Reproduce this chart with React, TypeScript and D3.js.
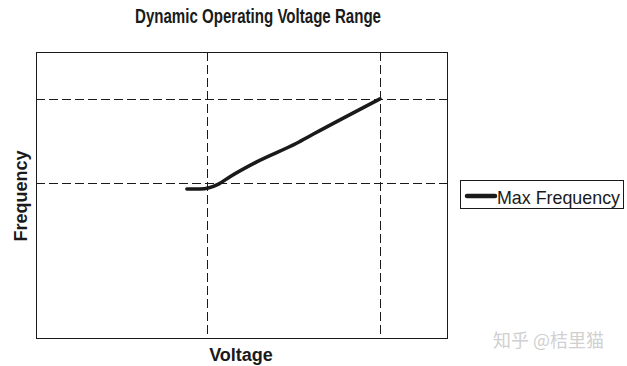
import React, { useEffect, useRef } from 'react';
import * as d3 from 'd3';

// Voltage / frequency in arbitrary units (0-100)
const voltage = [36.7, 39.9, 44.4, 47.2, 53.7, 63.4, 67.5, 83.7];
const frequency = [52.1, 52.1, 53.8, 56.4, 61.6, 68.1, 71.3, 83.6];
const voltageGrid = [41.6, 83.7];
const frequencyGrid = [54.2, 83.6];
const seriesName = 'Max Frequency';

const W = 627;
const H = 366;
const margin = { top: 52, right: 180, bottom: 28, left: 36 };

export default function App() {
  const svgRef = useRef<SVGSVGElement>(null);

  useEffect(() => {
    if (!svgRef.current) return;
    const svg = d3.select(svgRef.current);
    svg.selectAll('*').remove();

    const x = d3.scaleLinear().domain([0, 100]).range([margin.left, W - margin.right]);
    const y = d3.scaleLinear().domain([0, 100]).range([H - margin.bottom, margin.top]);
    const crisp = (v: number) => Math.round(v) + 0.5;
    const font = 'Liberation Sans, Arial, sans-serif';

    svg.append('rect').attr('width', W).attr('height', H).attr('fill', '#fff');

    // title (condensed in the original)
    svg.append('text')
      .attr('x', 135).attr('y', 22.5)
      .attr('font-family', font).attr('font-weight', 'bold').attr('font-size', 20)
      .attr('textLength', 246).attr('lengthAdjust', 'spacingAndGlyphs')
      .attr('fill', '#1a1a1a')
      .text('Dynamic Operating Voltage Range');

    // grid
    const grid = svg.append('g').attr('stroke', '#1a1a1a').attr('stroke-width', 1).attr('stroke-dasharray', '9,4');
    grid.selectAll('.v').data(voltageGrid).join('line')
      .attr('x1', d => crisp(x(d))).attr('x2', d => crisp(x(d)))
      .attr('y1', y(100)).attr('y2', y(0));
    grid.selectAll('.h').data(frequencyGrid).join('line')
      .attr('x1', x(0)).attr('x2', x(100))
      .attr('y1', d => crisp(y(d))).attr('y2', d => crisp(y(d)));

    // plot border
    svg.append('rect')
      .attr('x', crisp(x(0))).attr('y', crisp(y(100)))
      .attr('width', Math.round(x(100) - x(0))).attr('height', Math.round(y(0) - y(100)))
      .attr('fill', 'none').attr('stroke', '#1a1a1a').attr('stroke-width', 1);

    // line
    const line = d3.line<number>()
      .x((d, i) => x(voltage[i]))
      .y(d => y(d))
      .curve(d3.curveMonotoneX);
    svg.append('path')
      .attr('d', line(frequency) || '')
      .attr('fill', 'none').attr('stroke', '#1a1a1a')
      .attr('stroke-width', 3.5).attr('stroke-linecap', 'round');

    // axis labels
    svg.append('text')
      .attr('x', 241).attr('y', 361)
      .attr('text-anchor', 'middle')
      .attr('font-family', font).attr('font-weight', 'bold').attr('font-size', 18)
      .attr('fill', '#1a1a1a')
      .text('Voltage');
    svg.append('text')
      .attr('transform', `translate(27,196) rotate(-90)`)
      .attr('text-anchor', 'middle')
      .attr('font-family', font).attr('font-weight', 'bold').attr('font-size', 18)
      .attr('fill', '#1a1a1a')
      .text('Frequency');

    // legend
    const lg = svg.append('g');
    lg.append('rect')
      .attr('x', 460.5).attr('y', 180.5).attr('width', 163).attr('height', 28)
      .attr('fill', '#fff').attr('stroke', '#1a1a1a');
    lg.append('line')
      .attr('x1', 467).attr('x2', 495).attr('y1', 196).attr('y2', 196)
      .attr('stroke', '#1a1a1a').attr('stroke-width', 4.5).attr('stroke-linecap', 'round');
    lg.append('text')
      .attr('x', 497).attr('y', 203.5)
      .attr('font-family', font).attr('font-size', 18.5)
      .attr('textLength', 123).attr('lengthAdjust', 'spacingAndGlyphs')
      .attr('fill', '#1a1a1a')
      .text(seriesName);

    // watermark
    svg.append('text')
      .attr('x', 493).attr('y', 347)
      .attr('font-family', 'Noto Sans CJK SC, sans-serif').attr('font-size', 18)
      .attr('fill', '#d0d0d0')
      .text('知乎 @桔里猫');
  }, []);

  return (
    <svg ref={svgRef} width={W} height={H} viewBox={`0 0 ${W} ${H}`}
      style={{ position: 'absolute', left: 0, top: 0, display: 'block' }} />
  );
}
